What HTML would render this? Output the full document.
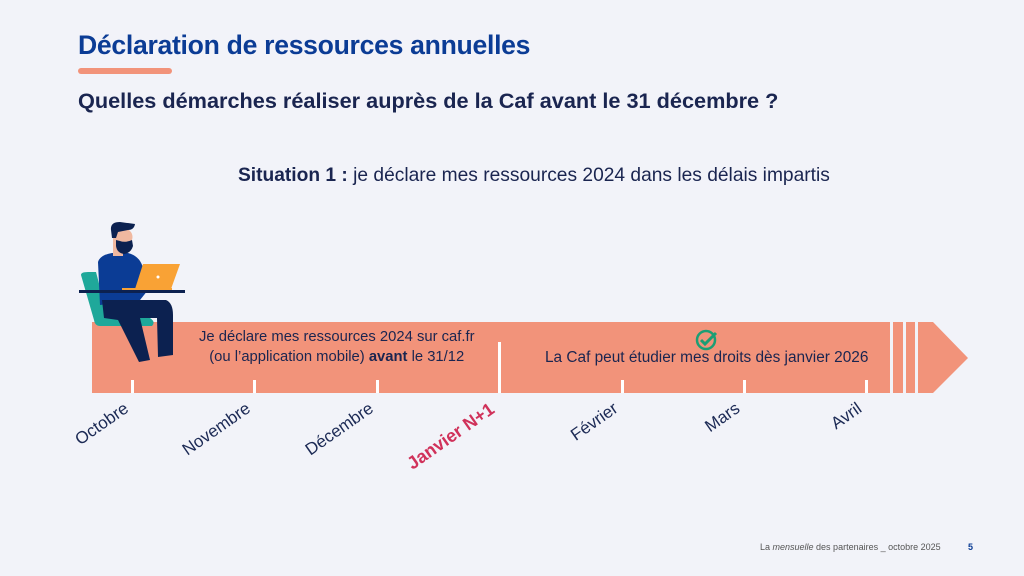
<!DOCTYPE html>
<html><head><meta charset="utf-8"><style>
body{margin:0;width:1024px;height:576px;background:#f2f3f9;position:relative;overflow:hidden;font-family:"Liberation Sans",sans-serif}
.a{position:absolute;white-space:nowrap}
.m{position:absolute;font-size:17px;color:#1c2a55;transform-origin:right bottom;transform:rotate(-35deg);white-space:nowrap}
</style></head><body>
<div class="a" style="left:78px;top:30px;font-size:26.6px;font-weight:bold;color:#0b3c95;letter-spacing:-0.3px">Déclaration de ressources annuelles</div>
<div class="a" style="left:78px;top:68px;width:94px;height:6px;border-radius:3px;background:#f2937a"></div>
<div class="a" style="left:78px;top:88px;font-size:21.7px;font-weight:bold;color:#1a2550">Quelles démarches réaliser auprès de la Caf avant le 31 décembre ?</div>
<div class="a" style="left:238px;top:165px;font-size:19.2px;color:#1a2550"><b>Situation 1 :</b> je déclare mes ressources 2024 dans les délais impartis</div>
<svg class="a" style="left:0;top:0" width="1024" height="576">
<rect x="92" y="322" width="798" height="71" fill="#f2937a"/>
<rect x="893" y="322" width="10" height="71" fill="#f2937a"/>
<rect x="906" y="322" width="9" height="71" fill="#f2937a"/>
<polygon points="918,322 933,322 968,358 933,393 918,393" fill="#f2937a"/>
<g fill="#fff"><rect x="131" y="380" width="3" height="13"/><rect x="253" y="380" width="3" height="13"/><rect x="376" y="380" width="3" height="13"/><rect x="498" y="342" width="3" height="51"/><rect x="621" y="380" width="3" height="13"/><rect x="743" y="380" width="3" height="13"/><rect x="865" y="380" width="3" height="13"/></g>
<circle cx="706" cy="340" r="9" fill="none" stroke="#1c9e74" stroke-width="2.5"/>
<polyline points="701,340 705,344 716,333" fill="none" stroke="#1c9e74" stroke-width="3"/>
<path d="M81,275 Q81,272 88,272 L96,272 L108,318 L150,318 Q156,322 152,326 L100,326 Q95,326 94,320 Z" fill="#1fa89a"/>
<path d="M98,262 Q100,255 112,253 L128,253 Q140,256 143,268 L148,290 L140,300 L100,305 Z" fill="#0b3c95"/>
<path d="M102,300 L166,300 Q173,303 173,315 L173,355 L158,357 L157,318 L140,318 L150,360 L139,362 L118,320 L104,318 Z" fill="#0c2150"/>
<rect x="113" y="236" width="10" height="20" fill="#f0b8a0"/>
<circle cx="124" cy="237" r="8.5" fill="#f0b8a0"/>
<path d="M111,230 Q110,222 120,222 L135,224 Q134,230 128,230 L118,232 L116,238 L112,238 Z" fill="#0c2150"/>
<path d="M116,240 L120,241 Q125,243 132,240 L133,246 Q131,253 124,254 Q117,253 116,246 Z" fill="#0c2150"/>
<polygon points="143,264 180,264 171,289 135,289" fill="#f9a235"/>
<rect x="122" y="288" width="50" height="2" fill="#f9a235"/>
<circle cx="158" cy="277" r="1.5" fill="#fff"/>
<rect x="79" y="290" width="106" height="3" fill="#0c2150"/>
</svg>
<div class="a" style="left:199px;top:327px;color:#1a2550;text-align:center;line-height:20px;font-size:14.8px">Je déclare mes ressources 2024 sur caf.fr<br>(ou l’application mobile) <b>avant</b> le 31/12</div>
<div class="a" style="left:545px;top:349px;font-size:15.4px;color:#1a2550">La Caf peut étudier mes droits dès janvier 2026</div>
<div class="m" style="right:892px;top:395px">Octobre</div>
<div class="m" style="right:770px;top:395px">Novembre</div>
<div class="m" style="right:647px;top:395px">Décembre</div>
<div class="m" style="right:525px;top:395px;color:#d0315a;font-weight:bold;font-size:18px">Janvier N+1</div>
<div class="m" style="right:402px;top:395px">Février</div>
<div class="m" style="right:280px;top:395px">Mars</div>
<div class="m" style="right:158px;top:395px">Avril</div>
<div class="a" style="left:760px;top:542px;font-size:9px;color:#555">La <i>mensuelle</i> des partenaires _ octobre 2025</div>
<div class="a" style="left:968px;top:542px;font-size:9px;font-weight:bold;color:#0b3c95">5</div>
</body></html>
